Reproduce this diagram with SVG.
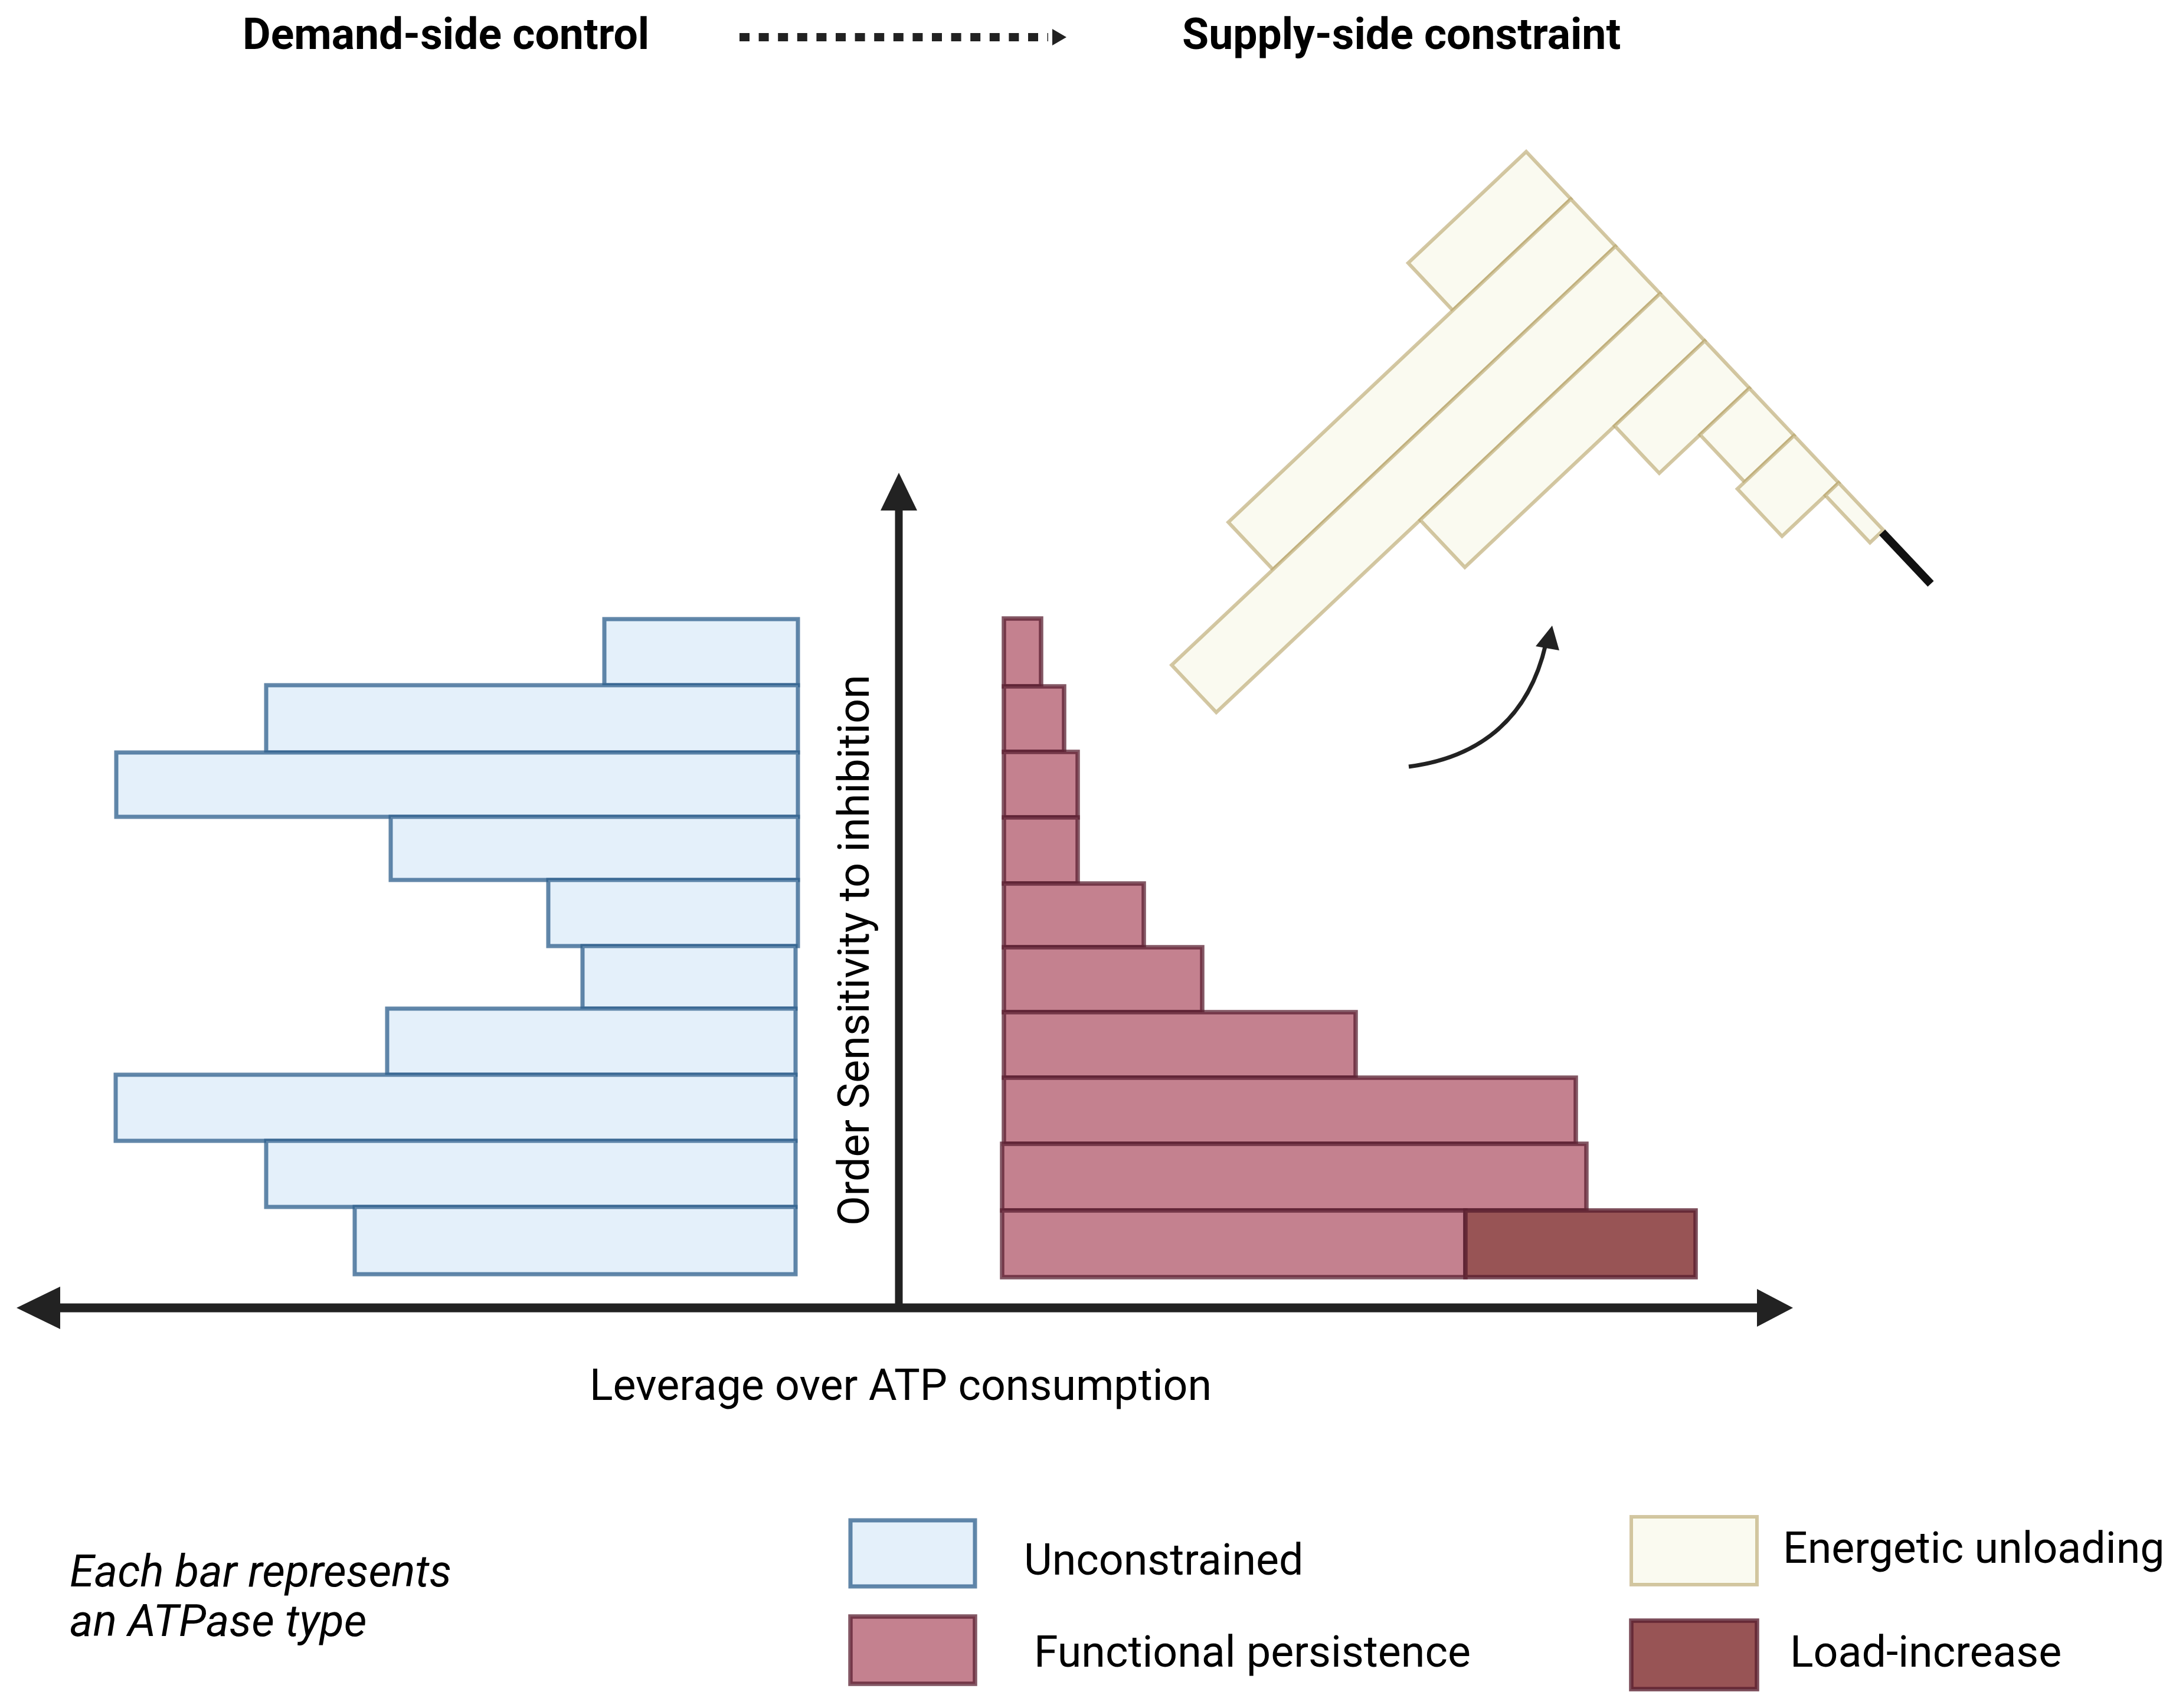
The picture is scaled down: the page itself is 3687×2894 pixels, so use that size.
<svg xmlns="http://www.w3.org/2000/svg" width="3687" height="2894" viewBox="0 0 3687 2894">
<style>
text{font-family:Roboto,"Liberation Sans",Arial,sans-serif;fill:#000}
.title{font-size:73.3px;font-weight:bold}
.lbl{font-size:73.5px}
.ital{font-size:75.3px;font-style:italic}
.blue{fill:#e4f0fa;stroke:#2d5f8c;stroke-opacity:.75;stroke-width:7}
.pink{fill:#c4818f;stroke:#5a1f30;stroke-opacity:.75;stroke-width:7.5}
.dark{fill:#985455;stroke:#5a1f30;stroke-opacity:.8;stroke-width:7.5}
.yel{fill:#fafaf0;stroke:#b5a266;stroke-opacity:.6;stroke-width:6}
.axis{stroke:#222;fill:none}
.ah{fill:#222}
</style>
<rect width="3687" height="2894" fill="#fff"/>

<g id="title-demand"><text class="title" x="411" y="83">Demand-side control</text></g>
<g id="title-supply"><text class="title" x="2003" y="83">Supply-side constraint</text></g>

<g id="unconstrained-bars">
<rect class="blue" x="1024" y="1049" width="328" height="112"/>
<rect class="blue" x="451" y="1161" width="901" height="114"/>
<rect class="blue" x="197" y="1275" width="1155" height="109"/>
<rect class="blue" x="662" y="1384" width="690" height="107"/>
<rect class="blue" x="929" y="1491" width="423" height="112"/>
<rect class="blue" x="987" y="1603" width="361" height="106"/>
<rect class="blue" x="656" y="1709" width="692" height="112"/>
<rect class="blue" x="196" y="1821" width="1152" height="112"/>
<rect class="blue" x="451" y="1933" width="897" height="112"/>
<rect class="blue" x="601" y="2045" width="747" height="114"/>
</g>

<g id="persistence-bars">
<rect class="pink" x="1701" y="1048" width="63" height="115"/>
<rect class="pink" x="1701" y="1163" width="102" height="111"/>
<rect class="pink" x="1701" y="1274" width="125" height="111"/>
<rect class="pink" x="1701" y="1385" width="125" height="112"/>
<rect class="pink" x="1701" y="1497" width="237" height="108"/>
<rect class="pink" x="1701" y="1605" width="336" height="110"/>
<rect class="pink" x="1701" y="1715" width="596" height="111"/>
<rect class="pink" x="1701" y="1826" width="969" height="112"/>
<rect class="pink" x="1698" y="1938" width="990" height="113"/>
<rect class="pink" x="1698" y="2051" width="785" height="113"/>
<rect class="dark" x="2483" y="2051" width="390" height="113"/>
</g>

<g id="unloading-bars" transform="translate(2586,257) rotate(46.66)">
<rect class="yel" x="0" y="0" width="110.2" height="275"/>
<rect class="yel" x="110.2" y="0" width="110.2" height="798"/>
<rect class="yel" x="220.4" y="0" width="110.2" height="1034"/>
<rect class="yel" x="330.6" y="0" width="110.2" height="559"/>
<rect class="yel" x="440.8" y="0" width="110.2" height="210"/>
<rect class="yel" x="551" y="0" width="110.2" height="115"/>
<rect class="yel" x="661.2" y="0" width="110.2" height="132"/>
<rect class="yel" x="771.4" y="0" width="110.2" height="31"/>
<line x1="883" y1="4" x2="1003" y2="4" stroke="#111" stroke-width="14"/>
</g>

<g id="connectors">
<line class="axis" x1="1253" y1="63" x2="1776" y2="63" stroke-width="14" stroke-dasharray="17 15.6"/>
<polygon class="ah" points="1783,49 1807,63 1783,77"/>
<line class="axis" x1="1523" y1="860" x2="1523" y2="2216" stroke-width="13"/>
<polygon class="ah" points="1523,801 1554,865 1492,865"/>
<line class="axis" x1="95" y1="2216" x2="2983" y2="2216" stroke-width="15"/>
<polygon class="ah" points="28,2216 102,2180 102,2252"/>
<polygon class="ah" points="3038,2216 2977,2184 2977,2248"/>
<path class="axis" d="M2387,1299 C2480,1287 2585,1240 2619,1092" stroke-width="7"/>
<polygon class="ah" points="2630,1060 2602,1095 2642,1102"/>
</g>

<g id="axis-y-label"><text class="lbl" transform="translate(1472,1610) rotate(-90)" text-anchor="middle" x="0" y="0">Order Sensitivity to inhibition</text></g>
<g id="axis-x-label"><text class="lbl" x="1526" y="2372" text-anchor="middle">Leverage over ATP consumption</text></g>

<g id="note"><text class="ital" x="118" y="2688">Each bar represents</text><text class="ital" x="118" y="2772">an ATPase type</text></g>

<g id="legend-unconstrained"><rect class="blue" x="1441" y="2576" width="211" height="112"/><text class="lbl" x="1735" y="2668">Unconstrained</text></g>
<g id="legend-persistence"><rect class="pink" x="1441" y="2739" width="211" height="114"/><text class="lbl" x="1752" y="2824">Functional persistence</text></g>
<g id="legend-unloading"><rect class="yel" x="2764" y="2570" width="213" height="115"/><text class="lbl" x="3021" y="2648">Energetic unloading</text></g>
<g id="legend-load"><rect class="dark" x="2764" y="2746" width="213" height="116"/><text class="lbl" x="3033" y="2824">Load-increase</text></g>
</svg>
